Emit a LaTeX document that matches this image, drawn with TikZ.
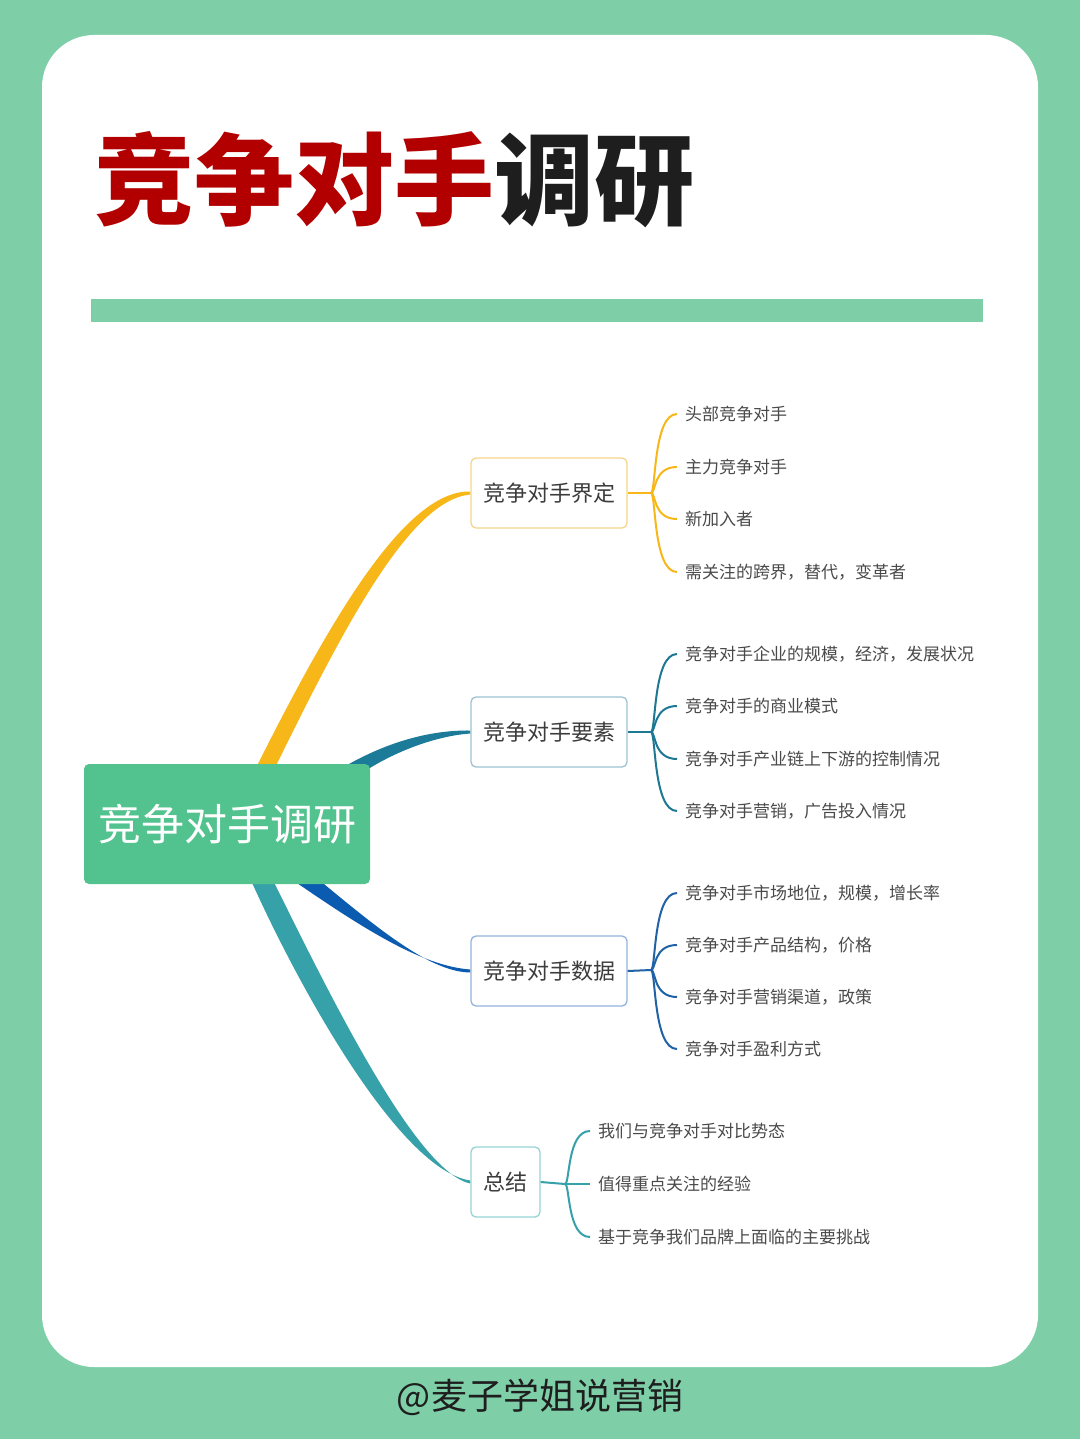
\documentclass[tikz,border=0pt]{standalone}
\usepackage{fontspec}
\setmainfont{Noto Sans CJK SC}
\usetikzlibrary{calc}
\definecolor{bggreen}{HTML}{7ECFA8}
\definecolor{rootgreen}{HTML}{52C38E}
\definecolor{titlered}{HTML}{B20000}
\definecolor{titledark}{HTML}{1E1E1E}
\definecolor{cY}{HTML}{F8B719}
\definecolor{cT}{HTML}{1B7B98}
\definecolor{cB}{HTML}{0B5CB0}
\definecolor{cG}{HTML}{37A1A9}
\definecolor{sT}{HTML}{1D7893}
\definecolor{sB}{HTML}{1F62A6}
\definecolor{bY}{HTML}{F6D58A}
\definecolor{bT}{HTML}{9CC3D3}
\definecolor{bB}{HTML}{93B3DD}
\definecolor{bG}{HTML}{97D3D6}
\definecolor{boxtext}{HTML}{3C3C3C}
\definecolor{leaftext}{HTML}{4A4A4A}
\pgfdeclarelayer{bg}
\pgfdeclarelayer{conn}
\pgfsetlayers{bg,conn,main}
\begin{document}
\begin{tikzpicture}[x=1pt,y=-1pt,
  box/.style={draw, rounded corners=5pt, line width=1.3pt, fill=white, inner sep=0pt,
    minimum height=70pt, font=\fontsize{22}{26}\selectfont, text=boxtext},
  leaf/.style={anchor=west, inner xsep=8pt, inner ysep=2pt, font=\fontsize{17}{20}\selectfont, text=leaftext},
  sub/.style={line width=2pt},
]
\begin{pgfonlayer}{bg}
\fill[bggreen] (0,0) rectangle (1080,1439);
\fill[white, rounded corners=52pt] (42,35) rectangle (1038,1367);
\fill[bggreen] (91,299) rectangle (983,322);
\end{pgfonlayer}

\node[anchor=west, inner sep=0pt, font=\fontsize{100}{100}\selectfont\bfseries] (title) at (94,180)
  {\textcolor{titlered}{竞争对手}\textcolor{titledark}{调研}};

\node[fill=rootgreen, rounded corners=5pt, minimum width=286pt, minimum height=120pt, inner sep=0pt,
  text=white, font=\fontsize{43}{48}\selectfont] (root) at (227,824) {竞争对手调研};

\node[box, draw=bY, minimum width=156pt] (b1) at (549,493) {竞争对手界定};
\node[box, draw=bT, minimum width=156pt] (b2) at (549,732) {竞争对手要素};
\node[box, draw=bB, minimum width=156pt] (b3) at (549,971) {竞争对手数据};
\node[box, draw=bG, minimum width=69pt] (b4) at (505.5,1182) {总结};

\begin{pgfonlayer}{conn}
\fill[cY] ($(root.north)+(28,6)$) .. controls (330,620) and (405,490) .. ($(b1.west)+(0,-1.5)$)
  -- ($(b1.west)+(0,1.5)$) .. controls (410,500) and (345,625) .. ($(root.north)+(47,6)$) -- cycle;
\fill[cT] ($(root.north)+(112,6)$) .. controls (385,742) and (430,730) .. ($(b2.west)+(0,-1.5)$)
  -- ($(b2.west)+(0,1.5)$) .. controls (435,736) and (395,752) .. ($(root.north)+(140,6)$) -- cycle;
\fill[cB] ($(root.south)+(63,-6)$) .. controls (358,925) and (420,966) .. ($(b3.west)+(0,-1.5)$)
  -- ($(b3.west)+(0,1.5)$) .. controls (432,972) and (384,934) .. ($(root.south)+(90,-6)$) -- cycle;
\fill[cG] ($(root.south)+(23,-6)$) .. controls (300,990) and (400,1170) .. ($(b4.west)+(0,-1.5)$)
  -- ($(b4.west)+(0,1.5)$) .. controls (415,1172) and (325,985) .. ($(root.south)+(45,-6)$) -- cycle;
\end{pgfonlayer}

% leaves
\coordinate (f1) at (651,493);
\node[leaf] (l11) at (677,414) {头部竞争对手};
\node[leaf] (l12) at (677,467) {主力竞争对手};
\node[leaf] (l13) at (677,519) {新加入者};
\node[leaf] (l14) at (677,572) {需关注的跨界，替代，变革者};

\coordinate (f2) at (651,732);
\node[leaf] (l21) at (677,654) {竞争对手企业的规模，经济，发展状况};
\node[leaf] (l22) at (677,706) {竞争对手的商业模式};
\node[leaf] (l23) at (677,759) {竞争对手产业链上下游的控制情况};
\node[leaf] (l24) at (677,811) {竞争对手营销，广告投入情况};

\coordinate (f3) at (651,970);
\node[leaf] (l31) at (677,893) {竞争对手市场地位，规模，增长率};
\node[leaf] (l32) at (677,945) {竞争对手产品结构，价格};
\node[leaf] (l33) at (677,997) {竞争对手营销渠道，政策};
\node[leaf] (l34) at (677,1049) {竞争对手盈利方式};

\coordinate (f4) at (565,1184);
\node[leaf] (l41) at (590,1131) {我们与竞争对手对比势态};
\node[leaf] (l42) at (590,1184) {值得重点关注的经验};
\node[leaf] (l43) at (590,1237) {基于竞争我们品牌上面临的主要挑战};

\draw[sub, cY] (b1.east) -- (f1);
\foreach \l in {l11,l12,l13,l14}
  \draw[sub, cY] (f1) .. controls ($(f1)+(5,0)$) and ($(f1 |- \l.west)+(2,0)$) .. (\l.west);
\draw[sub, sT] (b2.east) -- (f2);
\foreach \l in {l21,l22,l23,l24}
  \draw[sub, sT] (f2) .. controls ($(f2)+(5,0)$) and ($(f2 |- \l.west)+(2,0)$) .. (\l.west);
\draw[sub, sB] (b3.east) -- (f3);
\foreach \l in {l31,l32,l33,l34}
  \draw[sub, sB] (f3) .. controls ($(f3)+(5,0)$) and ($(f3 |- \l.west)+(2,0)$) .. (\l.west);
\draw[sub, cG] (b4.east) -- (f4);
\foreach \l in {l41,l43}
  \draw[sub, cG] (f4) .. controls ($(f4)+(5,0)$) and ($(f4 |- \l.west)+(2,0)$) .. (\l.west);
\draw[sub, cG] (f4) -- (l42.west);

\node[font=\fontsize{36}{40}\selectfont, text=titledark] (foot) at (540,1397) {@麦子学姐说营销};
\end{tikzpicture}
\end{document}
